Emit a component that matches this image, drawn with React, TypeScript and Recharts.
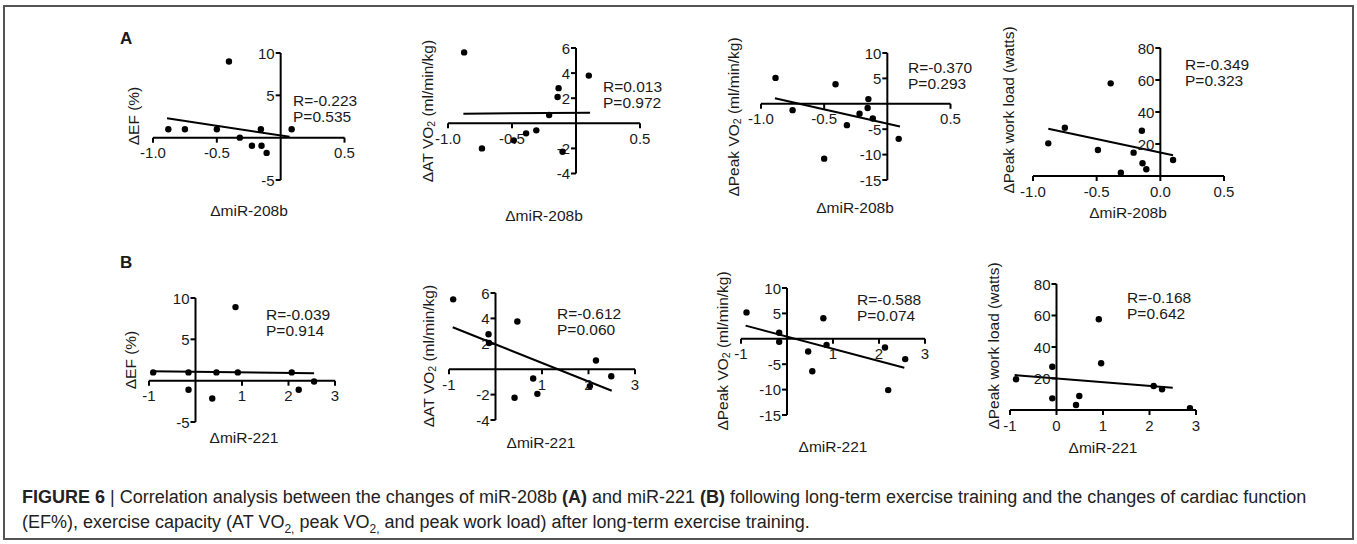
import React from 'react';
import { ScatterChart, Scatter, XAxis, YAxis, ReferenceLine, ReferenceDot } from 'recharts';

const FONT = "'Liberation Sans', Arial, Helvetica, sans-serif";

// ---------- Row A : x = ΔmiR-208b ----------
const efX208b = [-0.88, -0.75, -0.5, -0.155, 0.086, -0.405, -0.32, -0.225, -0.15, -0.11];
const efY208b = [1.0, 1.0, 1.0, 1.0, 1.0, 9.0, 0.0, -0.95, -0.95, -1.8];
const efFit208b = [[-0.89, 2.3], [0.07, 0.1]];

const atX208b = [-0.874, 0.1, -0.136, -0.144, -0.21, -0.31, -0.39, -0.486, -0.735, -0.105];
const atY208b = [5.65, 3.8, 2.8, 2.1, 0.66, -0.56, -0.8, -1.36, -2.0, -2.27];
const atFit208b = [[-0.88, 0.77], [0.11, 0.85]];

const pkX208b = [-0.885, -0.41, -0.15, -0.156, -0.75, -0.22, -0.32, -0.115, 0.09, -0.5];
const pkY208b = [5.1, 3.86, 0.93, -0.84, -1.25, -1.97, -4.2, -2.9, -6.9, -10.8];
const pkFit208b = [[-0.89, 1.1], [0.1, -4.45]];

const wlX208b = [-0.39, -0.75, -0.88, -0.145, -0.49, -0.21, 0.1, -0.14, -0.11, -0.31];
const wlY208b = [57.9, 30.2, 20.4, 28.3, 16.25, 14.6, 10, 8, 4.2, 2];
const wlFit208b = [[-0.88, 29.5], [0.1, 13]];

// ---------- Row B : x = ΔmiR-221 ----------
const efX221 = [-0.91, -0.15, 0.45, 0.91, 2.07, 2.55, -0.15, 0.36, 2.22, 0.86];
const efY221 = [1.0, 1.0, 1.0, 1.0, 1.0, -0.1, -1.1, -2.15, -1.1, 8.9];
const efFit221 = [[-0.95, 1.15], [2.55, 0.9]];

const atX221 = [-0.91, 0.47, -0.15, -0.14, 0.41, 0.81, 0.9, 2.03, 2.16, 2.49];
const atY221 = [5.5, 3.76, 2.75, 2.06, -2.25, -0.73, -1.94, -1.33, 0.68, -0.55];
const atFit221 = [[-0.92, 3.3], [2.5, -1.7]];

const pkX221 = [-0.88, -0.17, -0.17, 0.79, 0.86, 2.13, 0.46, 0.55, 2.2, 2.57];
const pkY221 = [5.2, 1.2, -0.6, 4.05, -1.2, -1.7, -2.5, -6.4, -10.1, -4.0];
const pkFit221 = [[-0.9, 2.6], [2.55, -5.7]];

const wlX221 = [0.91, 0.96, -0.09, -0.87, -0.09, 0.49, 0.42, 2.09, 2.27, 2.87];
const wlY221 = [57.6, 29.7, 27.5, 19.5, 7.4, 8.9, 3.2, 15.2, 13.1, 1.2];
const wlFit221 = [[-0.9, 22.2], [2.5, 14.2]];

// ---------- ticks ----------
const xTicks208b = [-1.0, -0.5, 0.5];
const xLabels208b = ['-1.0', '-0.5', '0.5'];
const xTicksWl208b = [-1.0, -0.5, 0.0, 0.5];
const xLabelsWl208b = ['-1.0', '-0.5', '0.0', '0.5'];
const xTicks221 = [-1, 1, 2, 3];
const xLabels221 = ['-1', '1', '2', '3'];
const xTicksWl221 = [-1, 0, 1, 2, 3];
const xLabelsWl221 = ['-1', '0', '1', '2', '3'];

const yTicksEf = [10, 5, -5];
const yLabelsEf = ['10', '5', '-5'];
const yTicksAt = [6, 4, 2, -2, -4];
const yLabelsAt = ['6', '4', '2', '-2', '-4'];
const yTicksPk = [10, 5, -5, -10, -15];
const yLabelsPk = ['10', '5', '-5', '-10', '-15'];
const yTicksWl = [20, 40, 60, 80];
const yLabelsWl = ['20', '40', '60', '80'];

// ---------- statistics ----------
const rTexts208b = ['R=-0.223', 'R=0.013', 'R=-0.370', 'R=-0.349'];
const pTexts208b = ['P=0.535', 'P=0.972', 'P=0.293', 'P=0.323'];
const rTexts221 = ['R=-0.039', 'R=-0.612', 'R=-0.588', 'R=-0.168'];
const pTexts221 = ['P=0.914', 'P=0.060', 'P=0.074', 'P=0.642'];

const M = 40;
const TICK_FS = 15;
const TEXT_FS = 15.5;

type PanelProps = {
  box: [number, number, number, number];
  xDomain: [number, number];
  yDomain: [number, number];
  xs: number[];
  ys: number[];
  fit: number[][];
  xTicks: number[];
  xLabels: string[];
  yTicks: number[];
  yLabels: string[];
};

function Panel({ box, xDomain, yDomain, xs, ys, fit, xTicks, xLabels, yTicks, yLabels }: PanelProps) {
  const [l, r, t, b] = box;
  const w = r - l + 2 * M;
  const h = b - t + 2 * M;
  const data = xs.map((x, i) => ({ x, y: ys[i] }));
  return (
    <div style={{ position: 'absolute', left: l - M, top: t - M, width: w, height: h }}>
      <ScatterChart width={w} height={h} margin={{ top: M, right: M, bottom: M, left: M }}>
        <XAxis type="number" dataKey="x" domain={xDomain} allowDataOverflow hide />
        <YAxis type="number" dataKey="y" domain={yDomain} allowDataOverflow hide />
        <ReferenceLine y={0} stroke="#000" strokeWidth={2} />
        <ReferenceLine x={0} stroke="#000" strokeWidth={2} />
        {xTicks.map((v, i) => (
          <ReferenceDot
            key={'xt' + i}
            x={v}
            y={0}
            shape={(p: any) => (
              <g>
                <line x1={p.cx} y1={p.cy} x2={p.cx} y2={p.cy + 5} stroke="#000" strokeWidth={2} />
                <text x={p.cx} y={p.cy + 20.5} textAnchor="middle" fontSize={TICK_FS} fontFamily={FONT} fill="#1a1a1a">
                  {xLabels[i]}
                </text>
              </g>
            )}
          />
        ))}
        {yTicks.map((v, i) => (
          <ReferenceDot
            key={'yt' + i}
            x={0}
            y={v}
            shape={(p: any) => (
              <g>
                <line x1={p.cx - 5} y1={p.cy} x2={p.cx} y2={p.cy} stroke="#000" strokeWidth={2} />
                <text x={p.cx - 6} y={p.cy + 5.5} textAnchor="end" fontSize={TICK_FS} fontFamily={FONT} fill="#1a1a1a">
                  {yLabels[i]}
                </text>
              </g>
            )}
          />
        ))}
        <ReferenceLine
          segment={[{ x: fit[0][0], y: fit[0][1] }, { x: fit[1][0], y: fit[1][1] }]}
          stroke="#000"
          strokeWidth={2}
        />
        <Scatter
          data={data}
          fill="#000"
          isAnimationActive={false}
          shape={(p: any) => <circle cx={p.cx} cy={p.cy} r={3.2} fill="#000" />}
        />
      </ScatterChart>
    </div>
  );
}

function YTitle({ x, y, main, sub, rest }: { x: number; y: number; main: string; sub?: string; rest?: string }) {
  return (
    <text
      x={x}
      y={y}
      transform={`rotate(-90 ${x} ${y})`}
      textAnchor="middle"
      dominantBaseline="central"
      fontSize={TEXT_FS}
      fontFamily={FONT}
      fill="#1a1a1a"
    >
      <tspan>{main}</tspan>
      {sub ? <tspan fontSize={10.5} dy={4}>{sub}</tspan> : null}
      {rest ? <tspan dy={sub ? -4 : 0}>{rest}</tspan> : null}
    </text>
  );
}

function XTitle({ x, y, text }: { x: number; y: number; text: string }) {
  return (
    <text x={x} y={y} textAnchor="middle" dominantBaseline="central" fontSize={TEXT_FS} fontFamily={FONT} fill="#1a1a1a">
      {text}
    </text>
  );
}

function Stats({ x, y, r, p }: { x: number; y: number; r: string; p: string }) {
  return (
    <g fontSize={TEXT_FS} fontFamily={FONT} fill="#1a1a1a">
      <text x={x} y={y} dominantBaseline="central">{r}</text>
      <text x={x} y={y + 16.5} dominantBaseline="central">{p}</text>
    </g>
  );
}

export default function App() {
  return (
    <div style={{ position: 'absolute', left: 0, top: 0, width: 1357, height: 544, background: '#fff', overflow: 'hidden' }}>
      <svg width={1357} height={544} style={{ position: 'absolute', left: 0, top: 0 }}>
        <rect x={4} y={6} width={1349} height={533} fill="none" stroke="#555" strokeWidth={2} />
        <text x={120} y={38} dominantBaseline="central" fontSize={17} fontWeight="bold" fontFamily={FONT} fill="#1a1a1a">A</text>
        <text x={120} y={262} dominantBaseline="central" fontSize={17} fontWeight="bold" fontFamily={FONT} fill="#1a1a1a">B</text>

        <YTitle x={133} y={116} main="ΔEF (%)" />
        <YTitle x={427} y={111} main="ΔAT VO" sub="2" rest=" (ml/min/kg)" />
        <YTitle x={733} y={117} main="ΔPeak VO" sub="2" rest=" (ml/min/kg)" />
        <YTitle x={1008} y={110} main="ΔPeak work load (watts)" />
        <YTitle x={130} y={360} main="ΔEF (%)" />
        <YTitle x={428} y={356} main="ΔAT VO" sub="2" rest=" (ml/min/kg)" />
        <YTitle x={722} y={351} main="ΔPeak VO" sub="2" rest=" (ml/min/kg)" />
        <YTitle x={993} y={346} main="ΔPeak work load (watts)" />

        <XTitle x={249} y={210} text="ΔmiR-208b" />
        <XTitle x={544} y={215} text="ΔmiR-208b" />
        <XTitle x={855} y={207} text="ΔmiR-208b" />
        <XTitle x={1128} y={212} text="ΔmiR-208b" />
        <XTitle x={244} y={437} text="ΔmiR-221" />
        <XTitle x={541} y={442} text="ΔmiR-221" />
        <XTitle x={833} y={446} text="ΔmiR-221" />
        <XTitle x={1103} y={447} text="ΔmiR-221" />

        <Stats x={293} y={100} r={rTexts208b[0]} p={pTexts208b[0]} />
        <Stats x={603} y={86} r={rTexts208b[1]} p={pTexts208b[1]} />
        <Stats x={908} y={67} r={rTexts208b[2]} p={pTexts208b[2]} />
        <Stats x={1185} y={64} r={rTexts208b[3]} p={pTexts208b[3]} />
        <Stats x={266} y={314} r={rTexts221[0]} p={pTexts221[0]} />
        <Stats x={557} y={313} r={rTexts221[1]} p={pTexts221[1]} />
        <Stats x={857} y={299} r={rTexts221[2]} p={pTexts221[2]} />
        <Stats x={1127} y={297} r={rTexts221[3]} p={pTexts221[3]} />
      </svg>

      <Panel box={[153, 344.5, 53, 180]} xDomain={[-1, 0.5]} yDomain={[-5, 10]} xs={efX208b} ys={efY208b} fit={efFit208b}
        xTicks={xTicks208b} xLabels={xLabels208b} yTicks={yTicksEf} yLabels={yLabelsEf} />
      <Panel box={[448, 640, 48, 173.5]} xDomain={[-1, 0.5]} yDomain={[-4, 6]} xs={atX208b} ys={atY208b} fit={atFit208b}
        xTicks={xTicks208b} xLabels={xLabels208b} yTicks={yTicksAt} yLabels={yLabelsAt} />
      <Panel box={[760.5, 950, 53, 180]} xDomain={[-1, 0.5]} yDomain={[-15, 10]} xs={pkX208b} ys={pkY208b} fit={pkFit208b}
        xTicks={xTicks208b} xLabels={xLabels208b} yTicks={yTicksPk} yLabels={yLabelsPk} />
      <Panel box={[1033, 1224, 48, 176]} xDomain={[-1, 0.5]} yDomain={[0, 80]} xs={wlX208b} ys={wlY208b} fit={wlFit208b}
        xTicks={xTicksWl208b} xLabels={xLabelsWl208b} yTicks={yTicksWl} yLabels={yLabelsWl} />

      <Panel box={[149, 335, 298, 422]} xDomain={[-1, 3]} yDomain={[-5, 10]} xs={efX221} ys={efY221} fit={efFit221}
        xTicks={xTicks221} xLabels={xLabels221} yTicks={yTicksEf} yLabels={yLabelsEf} />
      <Panel box={[449, 635, 293, 420]} xDomain={[-1, 3]} yDomain={[-4, 6]} xs={atX221} ys={atY221} fit={atFit221}
        xTicks={xTicks221} xLabels={xLabels221} yTicks={yTicksAt} yLabels={yLabelsAt} />
      <Panel box={[741, 925, 288, 415]} xDomain={[-1, 3]} yDomain={[-15, 10]} xs={pkX221} ys={pkY221} fit={pkFit221}
        xTicks={xTicks221} xLabels={xLabels221} yTicks={yTicksPk} yLabels={yLabelsPk} />
      <Panel box={[1010, 1196, 284, 410]} xDomain={[-1, 3]} yDomain={[0, 80]} xs={wlX221} ys={wlY221} fit={wlFit221}
        xTicks={xTicksWl221} xLabels={xLabelsWl221} yTicks={yTicksWl} yLabels={yLabelsWl} />

      <div style={{ position: 'absolute', left: 22, top: 488, whiteSpace: 'nowrap', fontFamily: FONT, fontSize: 18, lineHeight: '18px', color: '#222' }}>
        <b>FIGURE 6</b> | Correlation analysis between the changes of miR-208b <b>(A)</b> and miR-221 <b>(B)</b> following long-term exercise training and the changes of cardiac function
      </div>
      <div style={{ position: 'absolute', left: 22, top: 513, whiteSpace: 'nowrap', fontFamily: FONT, fontSize: 18, lineHeight: '18px', color: '#222' }}>
        (EF%), exercise capacity (AT VO<sub style={{ fontSize: 12 }}>2,</sub> peak VO<sub style={{ fontSize: 12 }}>2,</sub> and peak work load) after long-term exercise training.
      </div>
    </div>
  );
}
